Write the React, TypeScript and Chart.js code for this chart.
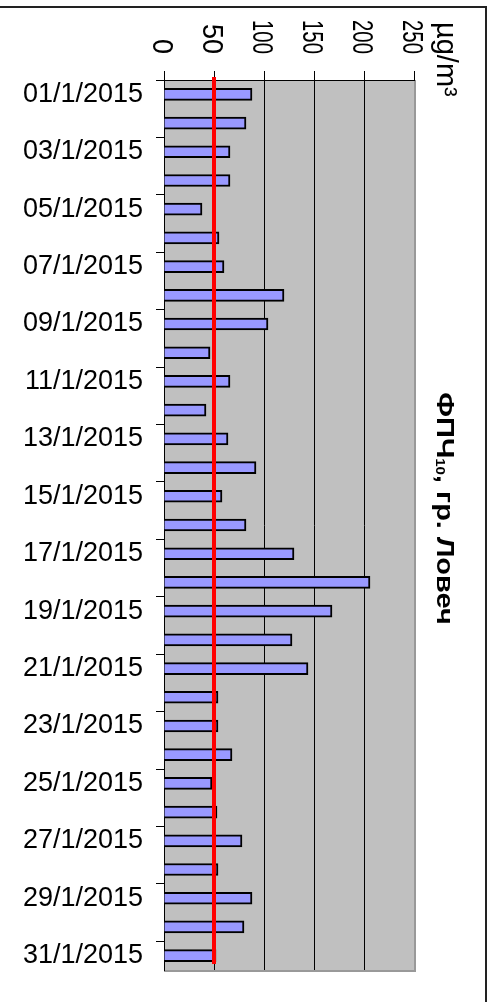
import React, { useEffect, useRef } from 'react';
import { Chart, registerables } from 'chart.js';

Chart.register(...registerables);

const DATES = [
  '01/1/2015', '02/1/2015', '03/1/2015', '04/1/2015', '05/1/2015', '06/1/2015', '07/1/2015',
  '08/1/2015', '09/1/2015', '10/1/2015', '11/1/2015', '12/1/2015', '13/1/2015', '14/1/2015',
  '15/1/2015', '16/1/2015', '17/1/2015', '18/1/2015', '19/1/2015', '20/1/2015', '21/1/2015',
  '22/1/2015', '23/1/2015', '24/1/2015', '25/1/2015', '26/1/2015', '27/1/2015', '28/1/2015',
  '29/1/2015', '30/1/2015', '31/1/2015',
];
const PM10 = [
  88, 82, 66, 66, 38, 55, 60, 120, 104, 46, 66, 42, 64, 92, 58, 82,
  130, 206, 168, 128, 144, 54, 54, 68, 48, 53, 78, 54, 88, 80, 52,
];
const LIMIT = 50;
const VALUE_TICKS = [0, 50, 100, 150, 200, 250];
const TITLE_MAIN = 'ФПЧ';
const TITLE_SUB = '10';
const TITLE_REST = ', гр. Ловеч';
const UNIT = 'µg/m³';
const FONT = '"Liberation Sans", Arial, sans-serif';

const decor = {
  id: 'decor',
  beforeDraw(chart: any) {
    const { ctx, chartArea: a } = chart;
    ctx.save();
    ctx.fillStyle = '#ffffff';
    ctx.fillRect(0, 0, chart.width, chart.height);
    ctx.fillStyle = '#c0c0c0';
    ctx.fillRect(a.left, a.top, a.right - a.left, a.bottom - a.top);
    ctx.strokeStyle = '#999999';
    ctx.lineWidth = 2;
    ctx.beginPath();
    ctx.moveTo(a.right + 1, a.top);
    ctx.lineTo(a.right + 1, a.bottom + 1);
    ctx.lineTo(a.left, a.bottom + 1);
    ctx.stroke();
    ctx.restore();
  },
  afterDatasetsDraw(chart: any) {
    const { ctx, chartArea: a, scales } = chart;
    const x = scales.x.getPixelForValue(LIMIT);
    ctx.save();
    ctx.strokeStyle = '#ff0000';
    ctx.lineWidth = 4;
    ctx.beginPath();
    ctx.moveTo(x, a.top - 3);
    ctx.lineTo(x, a.bottom - 6);
    ctx.stroke();
    ctx.restore();
  },
  afterDraw(chart: any) {
    const { ctx, chartArea: a, scales } = chart;
    ctx.save();
    // outer frame (top and right)
    ctx.strokeStyle = '#222222';
    ctx.lineWidth = 2;
    ctx.beginPath();
    ctx.moveTo(0, 7);
    ctx.lineTo(486, 7);
    ctx.lineTo(486, chart.height);
    ctx.stroke();

    // rotated value tick labels
    ctx.fillStyle = '#000';
    ctx.font = `27px ${FONT}`;
    ctx.textAlign = 'right';
    ctx.textBaseline = 'alphabetic';
    for (const v of VALUE_TICKS) {
      const x = scales.x.getPixelForValue(v);
      ctx.save();
      ctx.translate(x, 54);
      ctx.rotate(Math.PI / 2);
      ctx.scale(1, 1.1);
      ctx.fillText(String(v), 0, 9.7, 34);
      ctx.restore();
    }

    // unit label
    ctx.save();
    ctx.font = `29px ${FONT}`;
    ctx.textAlign = 'left';
    ctx.translate(a.right + 23, 22);
    ctx.rotate(Math.PI / 2);
    ctx.fillText(UNIT, 0, 0);
    ctx.restore();

    // title
    ctx.save();
    const big = `bold 29px ${FONT}`;
    const small = `bold 15px ${FONT}`;
    ctx.font = big;
    const w1 = ctx.measureText(TITLE_MAIN).width;
    const w3 = ctx.measureText(TITLE_REST).width;
    ctx.font = small;
    const w2 = ctx.measureText(TITLE_SUB).width;
    const total = w1 + w2 + w3;
    ctx.translate(437, 508.5);
    ctx.rotate(Math.PI / 2);
    ctx.scale(1, 0.85);
    ctx.textAlign = 'left';
    let cx = -total / 2;
    ctx.font = big;
    ctx.fillText(TITLE_MAIN, cx, 0);
    cx += w1;
    ctx.font = small;
    ctx.fillText(TITLE_SUB, cx, 1);
    cx += w2;
    ctx.font = big;
    ctx.fillText(TITLE_REST, cx, 0);
    ctx.restore();

    ctx.restore();
  },
};

export default function App() {
  const ref = useRef<HTMLCanvasElement>(null);
  useEffect(() => {
    Chart.defaults.font.family = FONT;
    const chart = new Chart(ref.current as HTMLCanvasElement, {
      type: 'bar',
      data: {
        labels: DATES,
        datasets: [
          {
            label: 'ФПЧ10',
            data: PM10,
            backgroundColor: '#9999ff',
            borderColor: '#000000',
            borderWidth: 2,
            barThickness: 12,
          },
        ],
      },
      options: {
        indexAxis: 'y',
        responsive: false,
        animation: false,
        layout: { padding: { left: 0, right: 82, top: 0, bottom: 32 } },
        plugins: {
          legend: { display: false },
          title: { display: false },
          tooltip: { enabled: false },
        },
        scales: {
          x: {
            type: 'linear',
            position: 'top',
            min: 0,
            max: 250,
            ticks: { stepSize: 50, display: false },
            grid: {
              color: (c: any) => (c.tick && c.tick.value === 250 ? '#999999' : '#000000'),
              lineWidth: 1,
              drawTicks: true,
              tickLength: 9,
              tickColor: '#000000',
            },
            border: { display: true, color: '#000000', width: 1 },
            afterFit: (s: any) => {
              s.height = 80;
            },
          },
          y: {
            type: 'category',
            position: 'left',
            ticks: {
              autoSkip: false,
              callback: (_v: any, i: number) => (i % 2 === 0 ? DATES[i] : ''),
              font: { family: FONT, size: 27 },
              color: '#000000',
              padding: 13,
            },
            grid: {
              drawOnChartArea: false,
              offset: true,
              tickLength: 8,
              tickColor: (c: any) => (c.index % 2 === 0 ? '#000000' : 'rgba(0,0,0,0)'),
            },
            border: { display: true, color: '#000000', width: 1 },
            afterFit: (s: any) => {
              s.width = 164;
            },
          },
        },
      },
      plugins: [decor],
    });
    return () => chart.destroy();
  }, []);
  return (
    <div style={{ position: 'absolute', left: 0, top: 0, width: 496, height: 1002, background: '#fff' }}>
      <canvas ref={ref} width={496} height={1002} style={{ display: 'block', width: 496, height: 1002 }} />
    </div>
  );
}
